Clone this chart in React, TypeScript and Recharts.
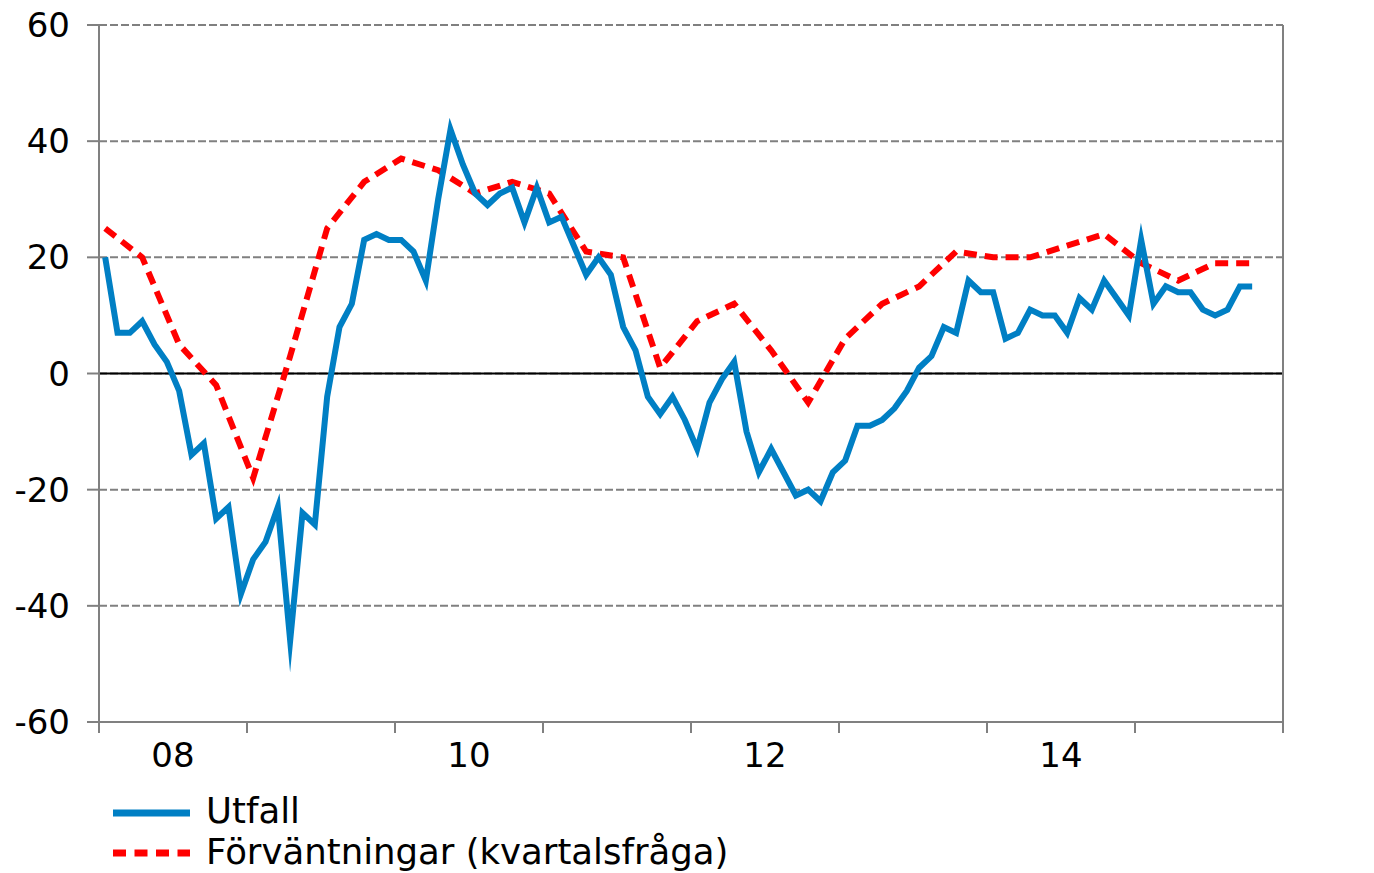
import React from 'react'
import { LineChart, Line, XAxis, YAxis, CartesianGrid, ReferenceLine } from 'recharts'

// Utfall, månadsvärden jan 2008 - okt 2015
const utfall = [
  20, 7, 7, 9, 5, 2, -3, -14, -12, -25, -23, -38,
  -32, -29, -23, -46, -24, -26, -4, 8, 12, 23, 24, 23,
  23, 21, 16, 30, 42, 36, 31, 29, 31, 32, 26, 32,
  26, 27, 22, 17, 20, 17, 8, 4, -4, -7, -4, -8,
  -13, -5, -1, 2, -10, -17, -13, -17, -21, -20, -22, -17,
  -15, -9, -9, -8, -6, -3, 1, 3, 8, 7, 16, 14,
  14, 6, 7, 11, 10, 10, 7, 13, 11, 16, 13, 10,
  23, 12, 15, 14, 14, 11, 10, 11, 15, 15,
]

// Förväntningar (kvartalsfråga), värden för jan, apr, jul, okt
const forvantningar = [
  25, 20, 5, -2,
  -18, 3, 25, 33,
  37, 35, 31, 33,
  31, 21, 20, 1,
  9, 12, 4, -5,
  6, 12, 15, 21,
  20, 20, 22, 24,
  19, 16, 19, 19,
]

const years = ['08', '09', '10', '11', '12', '13', '14', '15']
const labeledYears = ['08', '10', '12', '14']
const yTicks = [-60, -40, -20, 0, 20, 40, 60]

const BLUE = '#007FC4'
const RED = '#FF0000'
const GREY = '#808080'
const FONT = '"DejaVu Sans", Verdana, sans-serif'

const CHART_W = 1374
const LEFT_W = 99
const RIGHT_W = 91
// halvt år i pixlar, så att årstalet hamnar mitt mellan två årsgränser
const HALF_YEAR = (CHART_W - LEFT_W - RIGHT_W) / (years.length * 2)

// x är månadsindex, årsgränser mellan december och januari
const xDomain = [-0.5, years.length * 12 - 0.5]
const yearTicks = [...years.map((_, i) => i * 12 - 0.5), years.length * 12 - 0.5]

const data = utfall.map((v, i) => ({
  t: i,
  utfall: v,
  forv: i % 3 === 0 ? forvantningar[i / 3] ?? null : null,
}))

const YearTick = ({ x, y, payload }: any) => {
  const label = years[Math.round((payload.value + 0.5) / 12)]
  if (!label || !labeledYears.includes(label)) return null
  return (
    <text x={x + HALF_YEAR} y={y + 32} textAnchor="middle" fontSize={34} fontFamily={FONT} fill="#000">
      {label}
    </text>
  )
}

export default function App() {
  const axisStyle = { stroke: GREY, strokeWidth: 2 }
  const tickText = { fill: '#000', fontSize: 34, fontFamily: FONT }

  return (
    <div style={{ position: 'absolute', left: 0, top: 0, width: CHART_W, height: 873, background: '#fff' }}>
      <LineChart width={CHART_W} height={780} data={data} margin={{ top: 25, right: 0, bottom: 0, left: 0 }}>
        <CartesianGrid
          yAxisId="l"
          vertical={false}
          stroke={GREY}
          strokeWidth={2}
          strokeDasharray="8 3"
        />
        <XAxis
          dataKey="t"
          type="number"
          domain={xDomain}
          ticks={yearTicks}
          interval={0}
          tick={<YearTick />}
          tickSize={11}
          tickMargin={2}
          height={58}
          axisLine={axisStyle}
          tickLine={axisStyle}
        />
        <YAxis
          yAxisId="l"
          domain={[-60, 60]}
          ticks={yTicks}
          interval={0}
          width={LEFT_W}
          tickSize={12}
          tickMargin={17}
          axisLine={axisStyle}
          tickLine={axisStyle}
          tick={tickText}
        />
        <YAxis
          yAxisId="r"
          orientation="right"
          domain={[-60, 60]}
          ticks={yTicks}
          interval={0}
          width={RIGHT_W}
          tickSize={12}
          tickMargin={16}
          axisLine={axisStyle}
          tickLine={axisStyle}
          tick={{ ...tickText, textAnchor: 'start' }}
        />
        <ReferenceLine yAxisId="l" y={0} stroke="#000" strokeWidth={2} />
        <Line
          yAxisId="l"
          type="linear"
          dataKey="forv"
          stroke={RED}
          strokeWidth={6}
          strokeDasharray="13 8"
          strokeLinejoin="miter"
          strokeMiterlimit={30}
          dot={false}
          activeDot={false}
          connectNulls
          isAnimationActive={false}
        />
        <Line
          yAxisId="l"
          type="linear"
          dataKey="utfall"
          stroke={BLUE}
          strokeWidth={6}
          strokeLinejoin="miter"
          strokeMiterlimit={30}
          dot={false}
          activeDot={false}
          isAnimationActive={false}
        />
      </LineChart>

      {/* förklaring under diagrammet */}
      <svg width={CHART_W} height={93} style={{ position: 'absolute', left: 0, top: 780 }}>
        <line x1={113} x2={190} y1={33} y2={33} stroke={BLUE} strokeWidth={7} />
        <text x={206} y={43} fontSize={35.5} fontFamily={FONT} fill="#000">Utfall</text>
        <line x1={113} x2={190} y1={73} y2={73} stroke={RED} strokeWidth={7} strokeDasharray="13 8.5" />
        <text x={206} y={84} fontSize={35.5} fontFamily={FONT} fill="#000">Förväntningar (kvartalsfråga)</text>
      </svg>
    </div>
  )
}
